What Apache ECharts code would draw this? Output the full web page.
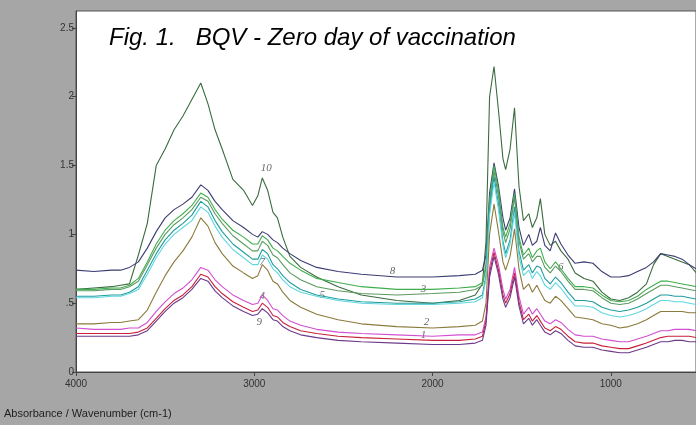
<!DOCTYPE html>
<html>
<head>
<meta charset="utf-8">
<style>html,body{margin:0;padding:0;background:#a6a6a6;}#chart{width:696px;height:425px;}</style>
<script src="https://cdn.jsdelivr.net/npm/echarts@6/dist/echarts.min.js"></script>
</head>
<body>
<div id="chart"></div>
<script>
// Wavenumbers (cm-1), descending
const wavenumbers = [4000,3900,3800,3750,3700,3650,3600,3550,3500,3450,3400,3350,3300,3260,3220,3180,3120,3060,3010,2980,2955,2925,2895,2870,2840,2800,2740,2650,2530,2400,2200,2000,1850,1760,1720,1700,1680,1655,1630,1605,1590,1565,1540,1515,1490,1460,1440,1415,1395,1370,1340,1310,1280,1240,1200,1150,1100,1050,1000,950,900,850,800,760,720,680,640,600,560,520];

const s10 = [0.60,0.61,0.62,0.63,0.64,0.85,1.08,1.50,1.62,1.76,1.86,1.98,2.10,1.95,1.76,1.62,1.40,1.32,1.21,1.28,1.41,1.32,1.16,1.12,0.98,0.84,0.76,0.69,0.62,0.56,0.52,0.50,0.52,0.56,0.64,0.95,2.00,2.22,1.90,1.55,1.47,1.62,1.92,1.35,1.10,1.15,1.05,1.12,1.26,1.00,0.92,0.95,0.88,0.82,0.72,0.68,0.66,0.58,0.53,0.52,0.54,0.58,0.64,0.78,0.86,0.84,0.82,0.80,0.78,0.72];
const s8 = [0.74,0.73,0.74,0.74,0.76,0.80,0.90,1.02,1.12,1.18,1.22,1.27,1.36,1.32,1.24,1.18,1.10,1.05,1.00,0.98,1.02,1.00,0.96,0.94,0.90,0.86,0.81,0.76,0.73,0.71,0.69,0.69,0.70,0.71,0.74,0.85,1.30,1.52,1.35,1.12,1.03,1.12,1.33,1.05,0.92,1.00,0.92,0.95,1.05,0.92,0.88,1.01,0.93,0.85,0.79,0.80,0.79,0.73,0.69,0.69,0.70,0.73,0.76,0.80,0.86,0.85,0.84,0.82,0.78,0.75];
const s3 = [0.60,0.60,0.61,0.61,0.63,0.68,0.80,0.93,1.03,1.10,1.15,1.21,1.30,1.27,1.18,1.11,1.03,0.98,0.93,0.93,0.99,0.96,0.90,0.88,0.84,0.79,0.74,0.68,0.65,0.62,0.60,0.60,0.61,0.62,0.65,0.78,1.25,1.50,1.32,1.05,0.98,1.08,1.30,0.98,0.85,0.90,0.83,0.88,0.90,0.80,0.75,0.80,0.75,0.68,0.62,0.62,0.61,0.56,0.52,0.51,0.52,0.55,0.60,0.63,0.66,0.66,0.65,0.64,0.63,0.62];
const s6 = [0.59,0.59,0.60,0.60,0.62,0.66,0.78,0.90,1.00,1.07,1.12,1.18,1.27,1.24,1.15,1.08,0.99,0.93,0.88,0.88,0.95,0.92,0.85,0.83,0.78,0.72,0.67,0.62,0.59,0.57,0.56,0.57,0.58,0.60,0.63,0.76,1.22,1.46,1.28,1.02,0.94,1.04,1.27,0.95,0.82,0.86,0.80,0.84,0.84,0.76,0.72,0.77,0.73,0.66,0.60,0.60,0.59,0.54,0.50,0.49,0.50,0.53,0.57,0.60,0.63,0.63,0.62,0.61,0.60,0.59];
const s7 = [0.55,0.55,0.56,0.56,0.58,0.62,0.74,0.86,0.96,1.03,1.08,1.14,1.24,1.20,1.10,1.02,0.93,0.87,0.82,0.82,0.89,0.86,0.78,0.75,0.70,0.65,0.60,0.56,0.53,0.51,0.50,0.50,0.51,0.53,0.56,0.70,1.18,1.42,1.22,0.95,0.86,0.96,1.20,0.88,0.74,0.78,0.72,0.77,0.76,0.68,0.64,0.69,0.65,0.58,0.52,0.52,0.51,0.47,0.45,0.44,0.45,0.47,0.50,0.53,0.56,0.56,0.55,0.55,0.54,0.53];
const s5 = [0.54,0.54,0.55,0.55,0.57,0.60,0.71,0.83,0.93,1.00,1.05,1.10,1.20,1.16,1.06,0.98,0.89,0.83,0.78,0.78,0.85,0.82,0.75,0.72,0.67,0.62,0.58,0.55,0.52,0.50,0.49,0.49,0.50,0.51,0.54,0.68,1.14,1.38,1.18,0.92,0.83,0.93,1.16,0.84,0.70,0.74,0.68,0.73,0.70,0.63,0.60,0.65,0.61,0.54,0.48,0.48,0.47,0.43,0.41,0.40,0.41,0.43,0.46,0.49,0.52,0.52,0.51,0.51,0.50,0.49];
const s2 = [0.35,0.35,0.36,0.36,0.37,0.38,0.45,0.58,0.70,0.80,0.88,0.98,1.12,1.06,0.94,0.86,0.77,0.72,0.68,0.70,0.78,0.74,0.66,0.64,0.58,0.52,0.47,0.42,0.38,0.35,0.33,0.32,0.33,0.34,0.37,0.50,1.00,1.22,1.02,0.80,0.74,0.84,1.04,0.75,0.60,0.64,0.58,0.63,0.58,0.52,0.50,0.55,0.52,0.46,0.40,0.39,0.38,0.35,0.34,0.32,0.33,0.35,0.38,0.41,0.44,0.44,0.44,0.44,0.43,0.43];
const s4 = [0.32,0.31,0.31,0.31,0.32,0.32,0.36,0.44,0.51,0.57,0.61,0.67,0.76,0.74,0.67,0.62,0.56,0.52,0.49,0.50,0.56,0.52,0.46,0.45,0.41,0.37,0.34,0.31,0.29,0.28,0.27,0.26,0.27,0.27,0.29,0.40,0.76,0.90,0.78,0.60,0.53,0.60,0.76,0.55,0.42,0.47,0.42,0.46,0.42,0.37,0.35,0.38,0.36,0.31,0.27,0.26,0.26,0.24,0.23,0.22,0.22,0.24,0.26,0.28,0.30,0.30,0.31,0.31,0.31,0.30];
const s1 = [0.28,0.28,0.28,0.28,0.28,0.29,0.32,0.39,0.46,0.52,0.56,0.62,0.71,0.69,0.62,0.57,0.51,0.47,0.44,0.45,0.50,0.47,0.41,0.40,0.36,0.33,0.30,0.28,0.26,0.25,0.24,0.23,0.23,0.24,0.26,0.37,0.72,0.87,0.74,0.56,0.50,0.57,0.72,0.51,0.38,0.42,0.37,0.41,0.37,0.32,0.30,0.33,0.31,0.26,0.22,0.21,0.21,0.19,0.18,0.17,0.17,0.19,0.21,0.23,0.25,0.26,0.26,0.26,0.26,0.25];
const s9 = [0.26,0.26,0.26,0.26,0.26,0.27,0.30,0.37,0.44,0.50,0.54,0.60,0.68,0.66,0.59,0.54,0.48,0.44,0.41,0.42,0.46,0.43,0.38,0.37,0.33,0.30,0.27,0.25,0.23,0.22,0.21,0.20,0.20,0.21,0.23,0.34,0.69,0.84,0.71,0.53,0.47,0.54,0.69,0.48,0.35,0.39,0.34,0.38,0.34,0.29,0.27,0.30,0.28,0.23,0.19,0.18,0.18,0.16,0.15,0.14,0.14,0.16,0.18,0.20,0.22,0.22,0.23,0.23,0.22,0.22];

const seriesNames = ['10','8','3','6','7','5','2','4','1','9'];
const seriesValues = [s10,s8,s3,s6,s7,s5,s2,s4,s1,s9];
const seriesColors = ['#3b6b3e','#3c3c74','#3fae4e','#5c9a60','#1f9c9c','#5fd6e0','#8c7a3c','#d24ed2','#c8203c','#6b3a8a'];

// curve number labels: [wavenumber, absorbance, text]
const curveLabels = [[2933,1.48,'10'],[2225,0.73,'8'],[2050,0.60,'3'],[2618,0.56,'5'],[2034,0.36,'2'],[2050,0.27,'1'],[2955,0.80,'7'],[2955,0.55,'4'],[2972,0.36,'9'],[1281,0.76,'6']];

const xTicks = [4000,3000,2000,1000];
const yTicks = [0,0.5,1,1.5,2,2.5];

const chart = echarts.init(document.getElementById('chart'));
const series = seriesValues.map((vals, i) => ({
  type: 'line',
  name: seriesNames[i],
  data: wavenumbers.map((w, j) => [w, vals[j]]),
  showSymbol: false,
  lineStyle: { width: 1.1, color: seriesColors[i] },
  itemStyle: { color: seriesColors[i] },
  silent: true
}));
series.push({
  type: 'scatter',
  data: curveLabels.map(l => ({ value: [l[0], l[1]], name: l[2] })),
  symbolSize: 0,
  silent: true,
  label: { show: true, position: 'inside', formatter: p => p.name, fontFamily: 'Liberation Serif', fontStyle: 'italic', fontSize: 11, color: '#444' }
});

chart.setOption({
  animation: false,
  backgroundColor: '#a6a6a6',
  title: [
    { text: 'Fig. 1.   BQV - Zero day of vaccination', left: 109, top: 26, padding: 0,
      textStyle: { fontFamily: 'Liberation Sans', fontStyle: 'italic', fontWeight: 'normal', fontSize: 24, color: '#000' } },
    { text: 'Absorbance / Wavenumber (cm-1)', left: 4, top: 408, padding: 0,
      textStyle: { fontFamily: 'Liberation Sans', fontWeight: 'normal', fontSize: 11, color: '#222' } }
  ],
  grid: { left: 76, right: 0, top: 11, bottom: 53, show: true, backgroundColor: '#ffffff', borderColor: '#555', borderWidth: 1 },
  xAxis: {
    type: 'value', inverse: true, min: 522, max: 4000,
    axisLine: { show: true, lineStyle: { color: '#444' } },
    axisTick: { show: true, length: 4, customValues: xTicks, lineStyle: { color: '#444' } },
    axisLabel: { customValues: xTicks, fontFamily: 'Liberation Sans', fontSize: 10, color: '#333', margin: 7,
      formatter: v => String(v) },
    splitLine: { show: false }
  },
  yAxis: {
    type: 'value', min: 0, max: 2.623,
    axisLine: { show: true, lineStyle: { color: '#444' } },
    axisTick: { show: true, length: 4, customValues: yTicks, lineStyle: { color: '#444' } },
    axisLabel: { customValues: yTicks, fontFamily: 'Liberation Sans', fontSize: 10, color: '#333', margin: 2,
      formatter: v => (v === 0.5 ? '.5' : String(v)) },
    splitLine: { show: false }
  },
  series: series
});
</script>
</body>
</html>
